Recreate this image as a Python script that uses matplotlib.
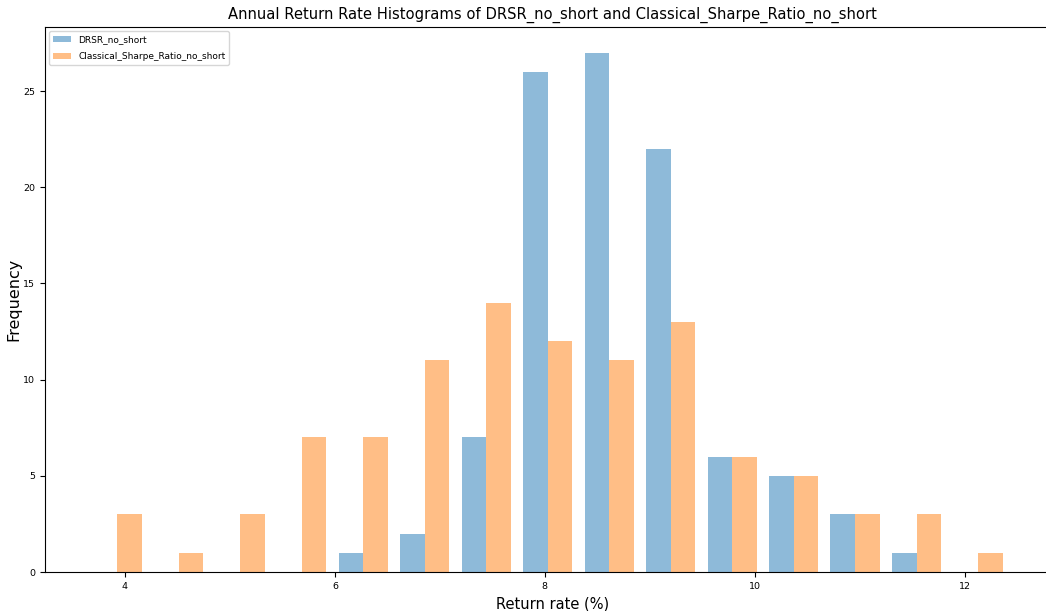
import matplotlib
matplotlib.use("Agg")
import matplotlib.pyplot as plt
import numpy as np

# histogram bins (annual return rate, %)
hist_min = 3.634
hist_max = 12.42
n_bins = 15

# counts per bin for each strategy
drsr_no_short = [0, 0, 0, 0, 1, 2, 7, 26, 27, 22, 6, 5, 3, 1, 0]
classical_no_short = [3, 1, 3, 7, 7, 11, 14, 12, 11, 13, 6, 5, 3, 3, 1]

edges = np.linspace(hist_min, hist_max, n_bins + 1)
centers = (edges[:-1] + edges[1:]) / 2

fig = plt.figure(figsize=(10.46, 6.11), dpi=100)
ax = fig.add_axes([0.043, 0.0638, 0.971, 0.8925])

ax.hist([centers, centers], bins=edges,
        weights=[drsr_no_short, classical_no_short],
        alpha=0.5, label=['DRSR_no_short', 'Classical_Sharpe_Ratio_no_short'])
ax.set_xlim(3.238, 12.914)

ax.set_title('Annual Return Rate Histograms of DRSR_no_short and Classical_Sharpe_Ratio_no_short',
             fontsize=10.6)
ax.set_xlabel('Return rate (%)', fontsize=10.5)
ax.set_ylabel('Frequency', fontsize=11.5, labelpad=1.5)
ax.tick_params(labelsize=6.8)
ax.legend(loc='upper left', fontsize=6.5, labelspacing=0.9)

fig.savefig('out.png', dpi=100)
